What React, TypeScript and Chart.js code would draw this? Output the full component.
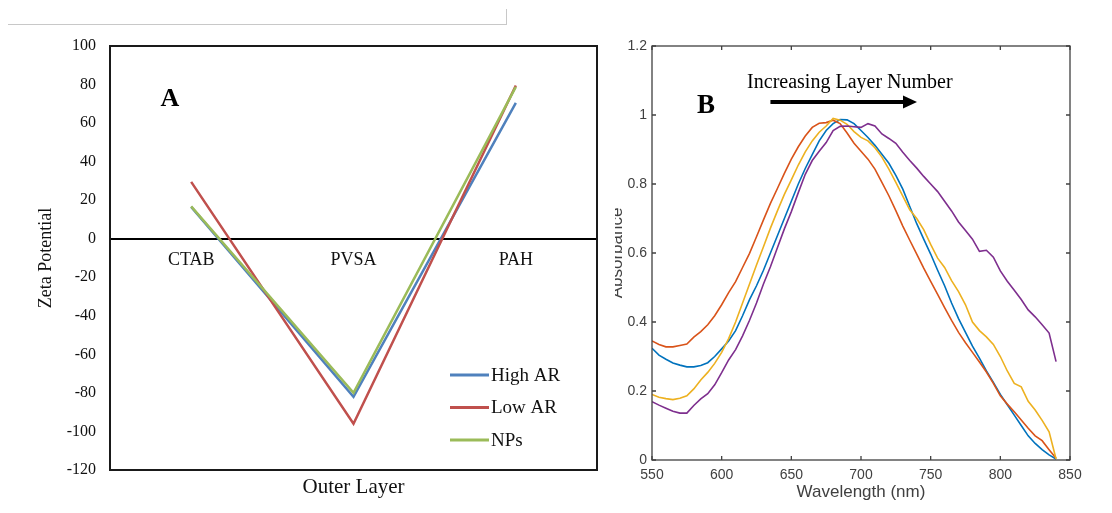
import React, { useEffect, useRef } from 'react';
import { Chart, registerables } from 'chart.js';

Chart.register(...registerables);

const SERIF = '"Liberation Serif", "Times New Roman", serif';
const SANS = '"Liberation Sans", Arial, sans-serif';

// ---------- Panel A data ----------
const outerLayers = ['CTAB', 'PVSA', 'PAH'];
const highAR = [16.5, -82, 70.5];
const lowAR = [29.5, -96, 79.5];
const nanoParticles = [16.8, -80, 78.8];
const zetaMin = -120;
const zetaMax = 100;
const zetaStep = 20;

// ---------- Panel B data ----------
const wavelengths = [
  550, 555, 560, 565, 570, 575, 580, 585, 590, 595,
  600, 605, 610, 615, 620, 625, 630, 635, 640, 645,
  650, 655, 660, 665, 670, 675, 680, 685, 690, 695,
  700, 705, 710, 715, 720, 725, 730, 735, 740, 745,
  750, 755, 760, 765, 770, 775, 780, 785, 790, 795,
  800, 805, 810, 815, 820, 825, 830, 835, 840,
];
const absBlue = [
  0.324, 0.304, 0.292, 0.281, 0.275, 0.270, 0.270, 0.274, 0.282, 0.300,
  0.322, 0.345, 0.375, 0.418, 0.465, 0.505, 0.550, 0.600, 0.650, 0.700,
  0.750, 0.800, 0.845, 0.885, 0.925, 0.955, 0.975, 0.987, 0.986, 0.975,
  0.955, 0.935, 0.912, 0.886, 0.860, 0.825, 0.785, 0.735, 0.685, 0.640,
  0.597, 0.550, 0.505, 0.455, 0.410, 0.370, 0.330, 0.295, 0.258, 0.225,
  0.190, 0.160, 0.130, 0.100, 0.070, 0.048, 0.030, 0.015, 0.003,
];
const absOrange = [
  0.345, 0.335, 0.328, 0.328, 0.332, 0.336, 0.356, 0.372, 0.392, 0.418,
  0.450, 0.485, 0.517, 0.558, 0.599, 0.647, 0.696, 0.744, 0.787, 0.831,
  0.872, 0.908, 0.939, 0.964, 0.976, 0.978, 0.985, 0.975, 0.948, 0.918,
  0.895, 0.872, 0.843, 0.805, 0.766, 0.723, 0.678, 0.637, 0.597, 0.556,
  0.518, 0.480, 0.442, 0.405, 0.370, 0.340, 0.312, 0.284, 0.255, 0.222,
  0.186, 0.162, 0.140, 0.116, 0.092, 0.070, 0.056, 0.030, 0.005,
];
const absYellow = [
  0.190, 0.182, 0.178, 0.175, 0.179, 0.186, 0.206, 0.232, 0.254, 0.280,
  0.312, 0.352, 0.400, 0.455, 0.510, 0.565, 0.618, 0.672, 0.722, 0.770,
  0.812, 0.855, 0.893, 0.925, 0.950, 0.968, 0.990, 0.985, 0.973, 0.952,
  0.935, 0.925, 0.905, 0.878, 0.843, 0.805, 0.765, 0.725, 0.700, 0.668,
  0.625, 0.585, 0.558, 0.520, 0.488, 0.450, 0.400, 0.375, 0.357, 0.335,
  0.300, 0.258, 0.222, 0.212, 0.170, 0.145, 0.115, 0.082, 0.003,
];
const absPurple = [
  0.169, 0.159, 0.150, 0.141, 0.136, 0.136, 0.158, 0.177, 0.192, 0.218,
  0.253, 0.290, 0.320, 0.360, 0.405, 0.455, 0.510, 0.560, 0.615, 0.670,
  0.720, 0.775, 0.828, 0.868, 0.895, 0.920, 0.955, 0.967, 0.968, 0.966,
  0.964, 0.975, 0.968, 0.945, 0.932, 0.918, 0.892, 0.868, 0.846, 0.822,
  0.800, 0.778, 0.750, 0.722, 0.690, 0.665, 0.640, 0.605, 0.608, 0.588,
  0.548, 0.518, 0.492, 0.465, 0.435, 0.415, 0.392, 0.368, 0.285,
];
const absMin = 0;
const absMax = 1.2;
const absStep = 0.2;
const waveMin = 550;
const waveMax = 850;
const waveStep = 50;

function ZetaChart() {
  const ref = useRef<HTMLCanvasElement>(null);
  useEffect(() => {
    const canvas = ref.current as HTMLCanvasElement;
    const panelPlugin = {
      id: 'panelA',
      afterDraw(chart: any) {
        const { ctx, chartArea: a } = chart;
        ctx.save();
        ctx.strokeStyle = '#1a1a1a';
        ctx.lineWidth = 2;
        ctx.strokeRect(a.left, a.top, a.right - a.left, a.bottom - a.top);
        ctx.fillStyle = '#000';
        ctx.font = `bold 26px ${SERIF}`;
        ctx.textAlign = 'center';
        ctx.textBaseline = 'middle';
        ctx.fillText('A', a.left + 60, a.top + 53);
        ctx.font = `19px ${SERIF}`;
        ctx.textAlign = 'left';
        chart.data.datasets.forEach((ds: any, i: number) => {
          const y = a.bottom - 95 + i * 32.5;
          ctx.strokeStyle = ds.borderColor;
          ctx.lineWidth = 3;
          ctx.beginPath();
          ctx.moveTo(a.right - 147, y);
          ctx.lineTo(a.right - 108, y);
          ctx.stroke();
          ctx.fillStyle = '#111';
          ctx.fillText(ds.label, a.right - 106, y + 1);
        });
        ctx.restore();
      },
    };
    const chart = new Chart(canvas, {
      type: 'line',
      data: {
        labels: outerLayers,
        datasets: [
          { label: 'High AR', data: highAR, borderColor: '#4F81BD', order: 2, xAxisID: 'x', yAxisID: 'y' },
          { label: 'Low AR', data: lowAR, borderColor: '#C0504D', order: 1, xAxisID: 'x', yAxisID: 'y' },
          { label: 'NPs', data: nanoParticles, borderColor: '#9BBB59', order: 0, xAxisID: 'x', yAxisID: 'y' },
        ],
      },
      options: {
        responsive: false,
        animation: false,
        layout: { padding: { top: 46, right: 8, bottom: 0, left: 0 } },
        elements: { point: { radius: 0 }, line: { borderWidth: 2.5, tension: 0 } },
        plugins: { legend: { display: false }, tooltip: { enabled: false } },
        scales: {
          x: {
            type: 'category',
            position: 'bottom',
            offset: true,
            grid: { display: false, drawTicks: false },
            border: { display: false },
            ticks: { display: false },
            title: {
              display: true,
              text: 'Outer Layer',
              color: '#111',
              font: { family: SERIF, size: 21 },
              padding: { top: 0, bottom: 13 },
            },
            afterFit: (s: any) => { s.height = 43; },
          },
          y: {
            type: 'linear',
            min: zetaMin,
            max: zetaMax,
            ticks: { stepSize: zetaStep, color: '#111', font: { family: SERIF, size: 16 }, padding: 14 },
            grid: { display: false, drawTicks: false },
            border: { display: false },
            title: {
              display: true,
              text: 'Zeta Potential',
              color: '#111',
              font: { family: SERIF, size: 18 },
              padding: { top: 35, bottom: 0 },
            },
            afterFit: (s: any) => { s.width = 110; },
          },
          xZero: {
            type: 'category',
            labels: outerLayers,
            position: { y: 0 },
            offset: true,
            grid: { display: false, drawTicks: false },
            border: { display: true, color: '#000', width: 2 },
            ticks: { color: '#111', font: { family: SERIF, size: 18 }, padding: 11, maxRotation: 0 },
          },
        } as any,
      },
      plugins: [panelPlugin],
    } as any);
    return () => chart.destroy();
  }, []);
  return (
    <canvas
      ref={ref}
      width={605}
      height={513}
      style={{ position: 'absolute', left: 0, top: 0, width: 605, height: 513 }}
    />
  );
}

function AbsorbanceChart() {
  const ref = useRef<HTMLCanvasElement>(null);
  useEffect(() => {
    const canvas = ref.current as HTMLCanvasElement;
    const panelPlugin = {
      id: 'panelB',
      afterDraw(chart: any) {
        const { ctx, chartArea: a, scales } = chart;
        const xs = scales.x;
        const ys = scales.y;
        ctx.save();
        ctx.strokeStyle = '#404040';
        ctx.lineWidth = 1.3;
        ctx.strokeRect(a.left, a.top, a.right - a.left, a.bottom - a.top);
        ctx.beginPath();
        xs.ticks.forEach((t: any) => {
          const px = xs.getPixelForValue(t.value);
          ctx.moveTo(px, a.bottom);
          ctx.lineTo(px, a.bottom - 4);
          ctx.moveTo(px, a.top);
          ctx.lineTo(px, a.top + 4);
        });
        ys.ticks.forEach((t: any) => {
          const py = ys.getPixelForValue(t.value);
          ctx.moveTo(a.left, py);
          ctx.lineTo(a.left + 4, py);
          ctx.moveTo(a.right, py);
          ctx.lineTo(a.right - 4, py);
        });
        ctx.stroke();

        // y-axis title (partly hidden at the panel's left edge, as in the source)
        ctx.save();
        ctx.translate(7, (a.top + a.bottom) / 2);
        ctx.rotate(-Math.PI / 2);
        ctx.font = `17px ${SANS}`;
        ctx.fillStyle = '#404040';
        ctx.textAlign = 'center';
        ctx.textBaseline = 'alphabetic';
        ctx.fillText('Absorbance', 0, 0);
        ctx.restore();

        // panel letter
        ctx.fillStyle = '#000';
        ctx.font = `bold 27px ${SERIF}`;
        ctx.textAlign = 'center';
        ctx.textBaseline = 'middle';
        ctx.fillText('B', xs.getPixelForValue(588.8), ys.getPixelForValue(1.026));

        // annotation text
        ctx.font = `20px ${SERIF}`;
        ctx.fillText('Increasing Layer Number', xs.getPixelForValue(692), ys.getPixelForValue(1.093));

        // arrow
        const x1 = xs.getPixelForValue(635);
        const x2 = xs.getPixelForValue(740.2);
        const yA = ys.getPixelForValue(1.038);
        ctx.strokeStyle = '#000';
        ctx.lineWidth = 4;
        ctx.beginPath();
        ctx.moveTo(x1, yA);
        ctx.lineTo(x2 - 10, yA);
        ctx.stroke();
        ctx.beginPath();
        ctx.moveTo(x2 - 14, yA - 6.5);
        ctx.lineTo(x2, yA);
        ctx.lineTo(x2 - 14, yA + 6.5);
        ctx.closePath();
        ctx.fill();
        ctx.restore();
      },
    };
    const toPoints = (vals: number[]) => vals.map((v, i) => ({ x: wavelengths[i], y: v }));
    const chart = new Chart(canvas, {
      type: 'line',
      data: {
        datasets: [
          { label: 'Layer 1', data: toPoints(absBlue), borderColor: '#0072BD', order: 3 },
          { label: 'Layer 2', data: toPoints(absOrange), borderColor: '#D95319', order: 2 },
          { label: 'Layer 3', data: toPoints(absYellow), borderColor: '#EDB120', order: 1 },
          { label: 'Layer 4', data: toPoints(absPurple), borderColor: '#7E2F8E', order: 0 },
        ],
      },
      options: {
        responsive: false,
        animation: false,
        layout: { padding: { top: 46, right: 42, bottom: 0, left: 0 } },
        elements: { point: { radius: 0 }, line: { borderWidth: 1.6, tension: 0 } },
        plugins: { legend: { display: false }, tooltip: { enabled: false } },
        scales: {
          x: {
            type: 'linear',
            min: waveMin,
            max: waveMax,
            ticks: { stepSize: waveStep, color: '#404040', font: { family: SANS, size: 14 }, padding: 7, maxRotation: 0 },
            grid: { display: false, drawTicks: false },
            border: { display: false },
            title: {
              display: true,
              text: 'Wavelength (nm)',
              color: '#404040',
              font: { family: SANS, size: 17 },
              padding: { top: 0, bottom: 10 },
            },
            afterFit: (s: any) => { s.height = 53; },
          },
          y: {
            type: 'linear',
            min: absMin,
            max: absMax,
            ticks: {
              stepSize: absStep,
              color: '#404040',
              font: { family: SANS, size: 14 },
              padding: 5,
              callback: (v: any) => String(parseFloat(Number(v).toFixed(1))),
            },
            grid: { display: false, drawTicks: false },
            border: { display: false },
            afterFit: (s: any) => { s.width = 37; },
          },
        } as any,
      },
      plugins: [panelPlugin],
    } as any);
    return () => chart.destroy();
  }, []);
  return (
    <canvas
      ref={ref}
      width={497}
      height={513}
      style={{ position: 'absolute', left: 615, top: 0, width: 497, height: 513 }}
    />
  );
}

export default function App() {
  return (
    <div
      style={{
        position: 'absolute',
        left: 0,
        top: 0,
        width: 1112,
        height: 513,
        background: '#fff',
        overflow: 'hidden',
      }}
    >
      <div
        style={{
          position: 'absolute',
          left: 8,
          top: 9,
          width: 499,
          height: 16,
          boxSizing: 'border-box',
          borderRight: '1px solid #c8c8c8',
          borderBottom: '1px solid #c8c8c8',
        }}
      />
      <ZetaChart />
      <AbsorbanceChart />
    </div>
  );
}
